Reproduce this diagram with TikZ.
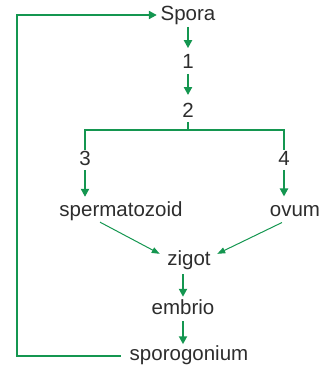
\documentclass[tikz,border=0pt]{standalone}
\usepackage{fontspec}
\setmainfont{Liberation Sans}
\usetikzlibrary{arrows.meta,calc}
\definecolor{grn}{RGB}{20,150,80}
\definecolor{txt}{RGB}{45,45,45}
\begin{document}
\begin{tikzpicture}[x=1pt,y=-1pt,
  lbl/.style={font=\fontsize{20.5}{22}\selectfont, text=txt, inner sep=1pt},
  thickarr/.style={draw=grn, line width=2.4pt, -{Triangle[length=8pt,width=8pt]}},
  brk/.style={draw=grn, line width=1.6pt},
  thinarr/.style={draw=grn, line width=1pt, -{Triangle[length=8pt,width=6pt]}}]
\useasboundingbox (0,0) rectangle (321,368);
\node[lbl] (spora) at (188,15) {Spora};
\node[lbl] (n1) at (188,61) {1};
\node[lbl] (n2) at (188,110) {2};
\node[lbl] (n3) at (85,158) {3};
\node[lbl] (n4) at (284,158) {4};
\node[lbl] (sperm) at (121,211) {spermatozoid};
\node[lbl] (ovum) at (295,211) {ovum};
\node[lbl] (zigot) at (189,260) {zigot};
\node[lbl] (embrio) at (183,307) {embrio};
\node[lbl] (sporo) at (189,355) {sporogonium};
\coordinate (bm) at (188,130);
\coordinate (corner) at (17,15);

\draw[thickarr, shorten <=1.4pt, shorten >=4.6pt] (spora.south) -- (n1.north);
\draw[thickarr, shorten <=4.6pt, shorten >=6.6pt] (n1.south) -- (n2.north);
\draw[brk, shorten <=3.6pt] (n2.south) -- (bm);
\draw[brk] (n3.north) -- (n3 |- bm) -- (n4 |- bm) -- (n4.north);
\draw[thickarr, shorten <=3.6pt, shorten >=3.4pt] (n3.south) -- (n3 |- sperm.north);
\draw[thickarr, shorten <=3.6pt, shorten >=7.7pt] (n4.south) -- (n4 |- ovum.north);
\draw[thinarr] ($(sperm.south)+(-21,0.4)$) -- ($(zigot.north west)+(-6.4,4.6)$);
\draw[thinarr] ($(ovum.south)+(-13,4.7)$) -- ($(zigot.north east)+(5.4,4.6)$);
\draw[thickarr, shorten <=3.4pt, shorten >=1.5pt] (zigot.south -| embrio) -- (embrio.north);
\draw[thickarr, shorten <=5.5pt] (embrio.south) -- (embrio |- sporo.north);
\draw[thickarr] ($(sporo.west)+(-8,1)$) -| (corner) -- ($(spora.west)+(-2.6,0)$);
\end{tikzpicture}
\end{document}
